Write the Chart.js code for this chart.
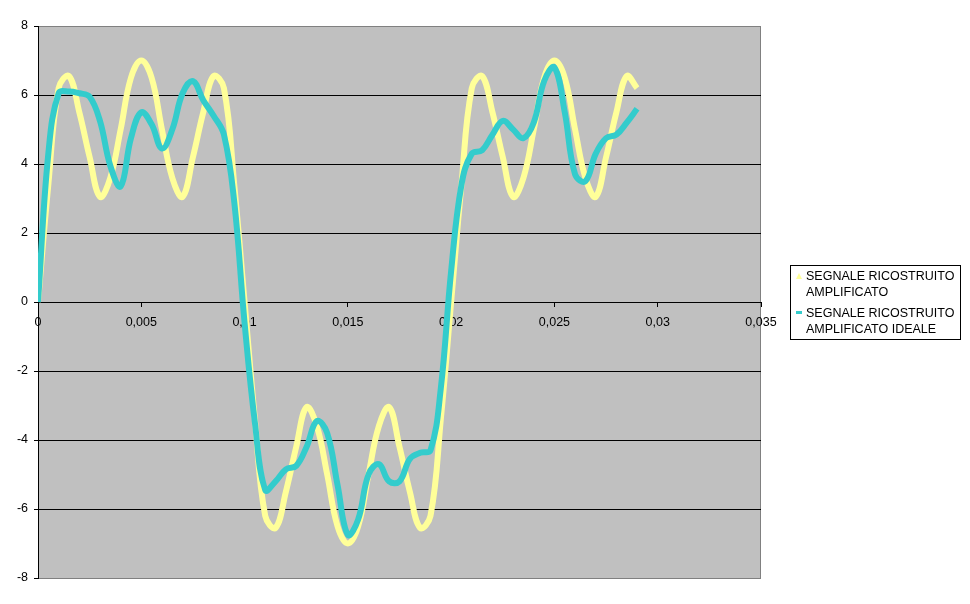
<!DOCTYPE html>
<html>
<head>
<meta charset="utf-8">
<title>Segnale ricostruito amplificato</title>
<script src="https://cdn.jsdelivr.net/npm/chart.js@4/dist/chart.umd.min.js"></script>
<style>
  body { margin: 0; background: #ffffff; }
  canvas { display: block; }
</style>
</head>
<body>
<canvas id="chart-canvas" width="970" height="604"></canvas>
<script>
// time samples (s)
let times = [
  0, 0.0005, 0.001, 0.0015, 0.002, 0.0025, 0.003, 0.0035, 0.004, 0.0045,
  0.005, 0.0055, 0.006, 0.0065, 0.007, 0.0075, 0.008, 0.0085, 0.009, 0.0095,
  0.01, 0.0105, 0.011, 0.0115, 0.012, 0.0125, 0.013, 0.0135, 0.014, 0.0145,
  0.015, 0.0155, 0.016, 0.0165, 0.017, 0.0175, 0.018, 0.0185, 0.019, 0.0195,
  0.02, 0.0205, 0.021, 0.0215, 0.022, 0.0225, 0.023, 0.0235, 0.024, 0.0245,
  0.025, 0.0255, 0.026, 0.0265, 0.027, 0.0275, 0.028, 0.0285, 0.029
];

let segnaleAmplificato = [
  0, 3.4, 6.2, 6.55, 5.5, 4.2, 3.05, 3.6, 5.0, 6.5,
  7.0, 6.5, 5.0, 3.6, 3.05, 4.2, 5.5, 6.55, 6.2, 3.4,
  0, -3.4, -6.2, -6.55, -5.5, -4.2, -3.05, -3.6, -5.0, -6.5,
  -7.0, -6.5, -5.0, -3.6, -3.05, -4.2, -5.5, -6.55, -6.2, -3.4,
  0, 3.4, 6.2, 6.55, 5.5, 4.2, 3.05, 3.6, 5.0, 6.5,
  7.0, 6.5, 5.0, 3.6, 3.05, 4.2, 5.5, 6.55, 6.2
];

let segnaleIdeale = [
  0, 4.3, 6.05, 6.1, 6.05, 5.95, 5.25, 3.95, 3.35, 4.75,
  5.5, 5.15, 4.45, 5.0, 6.05, 6.4, 5.85, 5.4, 4.85, 2.9,
  -0.6, -3.5, -5.45, -5.2, -4.85, -4.75, -4.2, -3.45, -3.8, -5.3,
  -6.75, -6.3, -5.0, -4.7, -5.2, -5.2, -4.55, -4.37, -4.3, -2.5,
  0.9, 3.4, 4.3, 4.4, 4.85, 5.25, 5.0, 4.75, 5.2, 6.4,
  6.8, 5.5, 3.7, 3.5, 4.3, 4.75, 4.85, 5.2, 5.6
];

let xTickLabels = ["0", "0,005", "0,01", "0,015", "0,02", "0,025", "0,03", "0,035"];
let yTickLabels = ["-8", "-6", "-4", "-2", "0", "2", "4", "6", "8"];

let legendLabels = [
  ["SEGNALE RICOSTRUITO", "AMPLIFICATO"],
  ["SEGNALE RICOSTRUITO", "AMPLIFICATO IDEALE"]
];

let yellow = "#FFFF99";
let teal = "#33CCCC";
let fontFamily = "'Liberation Sans', Arial, sans-serif";

function toPoints(values) {
  return values.map(function (v, i) {
    return { x: times[i], y: v };
  });
}

// gray plot area + right border
let plotBackground = {
  id: "plotBackground",
  beforeDraw: function (chart) {
    let ctx = chart.ctx;
    let a = chart.chartArea;
    ctx.save();
    ctx.fillStyle = "#ffffff";
    ctx.fillRect(0, 0, chart.width, chart.height);
    ctx.fillStyle = "#C0C0C0";
    ctx.fillRect(a.left, a.top, a.right - a.left, a.bottom - a.top);
    ctx.strokeStyle = "#808080";
    ctx.lineWidth = 1;
    ctx.beginPath();
    ctx.moveTo(Math.round(a.right) - 0.5, a.top);
    ctx.lineTo(Math.round(a.right) - 0.5, a.bottom);
    ctx.stroke();
    ctx.restore();
  }
};

// Excel style legend box with two-line labels
let boxLegend = {
  id: "boxLegend",
  afterDraw: function (chart) {
    let ctx = chart.ctx;
    ctx.save();
    ctx.fillStyle = "#ffffff";
    ctx.fillRect(790, 265, 171, 74);
    ctx.strokeStyle = "#000000";
    ctx.lineWidth = 1;
    ctx.strokeRect(790.5, 265.5, 170, 74);

    ctx.font = "12.5px " + fontFamily;
    ctx.fillStyle = "#000000";
    ctx.textBaseline = "middle";
    let lineY = [[277, 293], [314, 330]];
    legendLabels.forEach(function (lines, i) {
      lines.forEach(function (txt, j) {
        ctx.fillText(txt, 806, lineY[i][j]);
      });
    });

    // markers
    ctx.fillStyle = yellow;
    ctx.beginPath();
    ctx.moveTo(796, 279);
    ctx.lineTo(802, 279);
    ctx.lineTo(799, 273);
    ctx.closePath();
    ctx.fill();
    ctx.fillStyle = teal;
    ctx.fillRect(796, 311, 6, 3);
    ctx.restore();
  }
};

let chart = document.getElementById("chart-canvas").getContext("2d");

let chart1 = new Chart(chart, {
  type: "line",
  data: {
    datasets: [
      {
        label: legendLabels[1].join(" "),
        data: toPoints(segnaleIdeale),
        borderColor: teal,
        borderWidth: 6,
        pointRadius: 0,
        tension: 0.4,
        fill: false,
        order: 0
      },
      {
        label: legendLabels[0].join(" "),
        data: toPoints(segnaleAmplificato),
        borderColor: yellow,
        borderWidth: 6,
        pointRadius: 0,
        tension: 0.4,
        fill: false,
        order: 1
      }
    ]
  },
  options: {
    responsive: false,
    devicePixelRatio: 1,
    animation: false,
    layout: {
      padding: { left: 0, top: 26, right: 209, bottom: 26 }
    },
    plugins: {
      legend: { display: false },
      tooltip: { enabled: false }
    },
    scales: {
      x: {
        type: "linear",
        position: { y: 0 },
        min: 0,
        max: 0.035,
        ticks: {
          stepSize: 0.005,
          padding: 9,
          color: "#000000",
          font: { family: fontFamily, size: 12.5 },
          maxRotation: 0,
          callback: function (value, index) {
            return xTickLabels[index];
          }
        },
        grid: {
          drawOnChartArea: false,
          drawTicks: true,
          tickLength: 4,
          tickColor: "#000000"
        },
        border: { color: "#000000", width: 1 }
      },
      y: {
        min: -8,
        max: 8,
        afterFit: function (scale) {
          scale.width = 38;
        },
        ticks: {
          stepSize: 2,
          padding: 6,
          color: "#000000",
          font: { family: fontFamily, size: 12.5 },
          callback: function (value, index) {
            return yTickLabels[index];
          }
        },
        grid: {
          color: function (c) {
            if (c.tick && (c.tick.value === 8 || c.tick.value === -8)) {
              return "#808080";
            }
            return "#000000";
          },
          lineWidth: 1,
          tickLength: 4,
          tickColor: "#000000"
        },
        border: { color: "#000000", width: 1 }
      }
    }
  },
  plugins: [plotBackground, boxLegend]
});
</script>
</body>
</html>
